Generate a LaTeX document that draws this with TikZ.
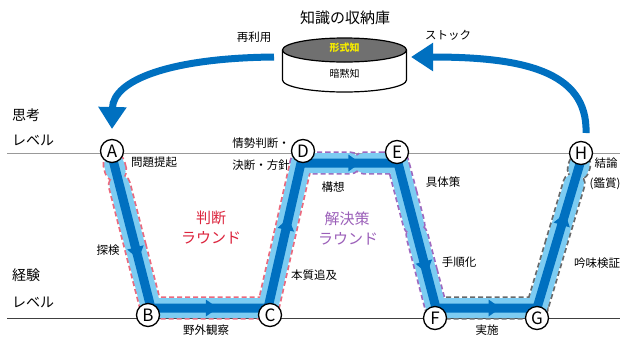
\documentclass[tikz,border=0pt]{standalone}
\usepackage{fontspec}
\setmainfont{Noto Sans CJK JP}
\usetikzlibrary{arrows.meta,decorations.markings,calc,shapes.misc}
\definecolor{dblue}{RGB}{0,112,192}
\definecolor{lblue}{RGB}{125,204,242}
\definecolor{rdash}{RGB}{236,105,125}
\definecolor{pdash}{RGB}{160,105,190}
\definecolor{gdash}{RGB}{105,105,105}
\definecolor{rtext}{RGB}{220,35,60}
\definecolor{ptext}{RGB}{155,95,185}
\definecolor{ytext}{RGB}{245,235,0}
\definecolor{topgray}{RGB}{112,112,112}
\newcommand\halopiece[3]{%
  \path let \p1=($(#2)-(#1)$), \n1={veclen(\x1,\y1)}, \n2={atan2(\y1,\x1)} in
    node[rounded rectangle, inner sep=0pt, minimum height=20pt,
         minimum width=\n1+20pt, rotate=\n2, #3] at ($(#1)!0.5!(#2)$) {};}
\newcommand\midarrow[3]{%
  \path[decoration={markings, mark=at position #3 with
    {\fill[dblue] (6pt,0) -- (-6pt,8.5pt) -- (-6pt,-8.5pt) -- cycle;}}, decorate] (#1) -- (#2);}
\begin{document}
\begin{tikzpicture}[x=1pt,y=-1pt,
  lbl/.style={font=\fontsize{11.5}{12}\selectfont, inner sep=0pt},
  biglbl/.style={font=\fontsize{14}{15}\selectfont, inner sep=0pt, anchor=west},
  rnd/.style={font=\fontsize{15}{16}\selectfont, inner sep=0pt},
  ptnode/.style={circle, draw=black, line width=1.3pt, fill=white, minimum size=23pt,
    inner sep=0pt, font=\fontsize{17}{17}\selectfont},
  outl/.style={draw=#1, line width=3.4pt, dash pattern=on 5pt off 3pt},
  halofill/.style={fill=lblue},
  bigarrow/.style={draw=dblue, line width=7pt, -{Triangle[length=22pt,width=27pt]}}
]
\useasboundingbox (0,0) rectangle (620,338);
\fill[white] (0,0) rectangle (620,338);

% level lines
\draw[gray!80, line width=0.9pt] (7,153) -- (620,153);
\draw[black!75, line width=0.9pt] (7,318) -- (620,318);

% level labels
\node[biglbl] (t1) at (12,115) {思考};
\node[biglbl] (t2) at (12,140) {レベル};
\node[biglbl] (e1) at (12,275) {経験};
\node[biglbl] (e2) at (12,302) {レベル};

% step labels
\node[lbl] (l1) at (154,162) {問題提起};
\node[lbl] (l2) at (108,250) {探検};
\node[lbl] (l3) at (206,330) {野外観察};
\node[lbl] (l4) at (314,275) {本質追及};
\node[lbl] (l5) at (261,143) {情勢判断・};
\node[lbl] (l6) at (261,165) {決断・方針};
\node[lbl] (l7) at (333,187) {構想};
\node[lbl] (l8) at (443,182) {具体策};
\node[lbl] (l9) at (459,262) {手順化};
\node[lbl] (l10) at (487,330) {実施};
\node[lbl] (l11) at (597,263) {吟味検証};
\node[lbl] (l12) at (606,163) {結論};
\node[lbl] (l13) at (605,184) {(鑑賞)};
\node[rnd, rtext] (r1) at (211,218) {判断};
\node[rnd, rtext] (r2) at (211,238) {ラウンド};
\node[rnd, ptext] (s1) at (347,219) {解決策};
\node[rnd, ptext] (s2) at (348,239) {ラウンド};

% path waypoints
\coordinate (pA) at (113,160);
\coordinate (pB) at (151,308);
\coordinate (pC) at (268,308);
\coordinate (pD) at (301,163);
\coordinate (pE) at (398,163);
\coordinate (pF) at (436,308);
\coordinate (pG) at (537,308);
\coordinate (pH) at (581,160);
\coordinate (a1) at ($(pA)!0.03!(pB)$);
\coordinate (a2) at ($(pA)!0.07!(pB)$);
\coordinate (a3) at ($(pA)!0.17!(pB)$);
\coordinate (d1) at (350,163);
\coordinate (d2) at (364,163);
\coordinate (e1p) at ($(pE)!0.42!(pF)$);
\coordinate (e2p) at ($(pE)!0.50!(pF)$);
\coordinate (g1) at ($(pG)!0.84!(pH)$);
\coordinate (g2) at ($(pG)!0.94!(pH)$);
\coordinate (g3) at ($(pG)!0.97!(pH)$);

% halo outlines
\halopiece{a1}{a2}{outl=rdash}
\halopiece{a3}{pB}{outl=rdash}
\halopiece{pB}{pC}{outl=rdash}
\halopiece{pC}{pD}{outl=rdash}
\halopiece{pD}{d1}{outl=pdash}
\halopiece{d2}{pE}{outl=pdash}
\halopiece{pE}{e1p}{outl=pdash}
\halopiece{e2p}{pF}{outl=pdash}
\halopiece{pF}{pG}{outl=gdash}
\halopiece{pG}{g1}{outl=gdash}
\halopiece{g2}{g3}{outl=gdash}
% halo fills
\halopiece{a1}{a2}{halofill}
\halopiece{a3}{pB}{halofill}
\halopiece{pB}{pC}{halofill}
\halopiece{pC}{pD}{halofill}
\halopiece{pD}{d1}{halofill}
\halopiece{d2}{pE}{halofill}
\halopiece{pE}{e1p}{halofill}
\halopiece{e2p}{pF}{halofill}
\halopiece{pF}{pG}{halofill}
\halopiece{pG}{g1}{halofill}
\halopiece{g2}{g3}{halofill}

% main path
\draw[dblue, line width=9pt] (pA) -- (pB) -- (pC) -- (pD) -- (pE) -- (pF) -- (pG) -- (pH);
\midarrow{pA}{pB}{0.63}
\midarrow{pB}{pC}{0.52}
\midarrow{pC}{pD}{0.58}
\midarrow{pD}{pE}{0.55}
\midarrow{pE}{pF}{0.72}
\midarrow{pF}{pG}{0.58}
\midarrow{pG}{pH}{0.60}

% nodes
\node[ptnode] (A) at (112,151) {A};
\node[ptnode] (B) at (148,315) {B};
\node[ptnode] (C) at (270,315) {C};
\node[ptnode] (D) at (303,151) {D};
\node[ptnode] (E) at (397,152) {E};
\node[ptnode] (F) at (435,318) {F};
\node[ptnode] (G) at (537,318) {G};
\node[ptnode] (H) at (581,153) {H};

% storage cylinder
\draw[fill=white, line width=1.2pt] (282.5,50) -- (282.5,80)
  arc[start angle=180, end angle=0, x radius=62, y radius=12] -- (406.5,50);
\draw[fill=topgray, line width=1.2pt] (344.5,50) ellipse[x radius=62, y radius=12];
\node[font=\fontsize{10}{10}\selectfont\bfseries, text=ytext, inner sep=0pt] (tk) at (344.5,48) {形式知};
\node[font=\fontsize{10}{10}\selectfont, inner sep=0pt] (ak) at (344.5,74) {暗黙知};
\node[font=\fontsize{15}{16}\selectfont, inner sep=0pt] (title) at (345,18) {知識の収納庫};
\node[lbl] (reuse) at (254,37) {再利用};
\node[lbl] (stock) at (448,35) {ストック};

% big arrows
\coordinate (cylL) at (274,57);
\coordinate (toA) at (112,129);
\coordinate (fromH) at (586,133);
\coordinate (cylR) at (411,57);
\draw[bigarrow] (cylL) .. controls (170,58) and (113,80) .. (toA);
\draw[bigarrow] (fromH) .. controls (588,70) and (520,57) .. (cylR);
\end{tikzpicture}
\end{document}
